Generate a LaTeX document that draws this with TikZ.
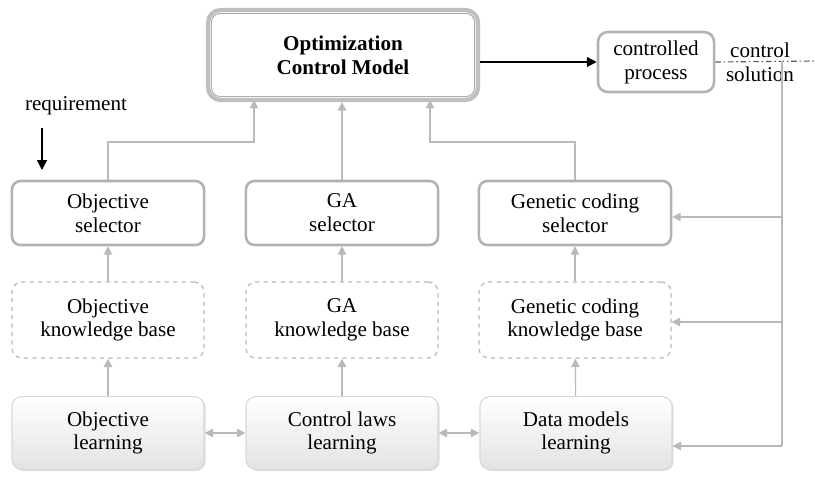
\documentclass[tikz,border=0pt]{standalone}
\usepackage{fontspec}
\setmainfont{Liberation Serif}
\usetikzlibrary{arrows.meta,shadows}

\tikzset{
  txt/.style={align=center, font=\fontsize{15}{17}\selectfont},
  topbox/.style={txt, draw=gray!50, line width=3pt, rounded corners=9pt, fill=white,
    minimum width=6.75cm, minimum height=2.25cm, font=\fontsize{15}{17}\selectfont\bfseries},
  procbox/.style={txt, draw=gray!60, line width=1.8pt, rounded corners=7pt, fill=white,
    minimum width=2.9cm, minimum height=1.5cm},
  selbox/.style={txt, draw=gray!60, line width=1.8pt, rounded corners=6pt, fill=white,
    minimum width=4.8cm, minimum height=1.6cm},
  kbbox/.style={txt, draw=gray!55, dashed, line width=0.9pt, rounded corners=7pt,
    minimum width=4.8cm, minimum height=1.9cm},
  learnbox/.style={txt, draw=gray!30, line width=0.8pt, rounded corners=7pt,
    top color=white, bottom color=gray!22,
    drop shadow={shadow xshift=1.2pt, shadow yshift=-1.2pt, opacity=0.25},
    minimum width=4.8cm, minimum height=1.82cm},
  garrow/.style={draw=gray!55, line width=0.8pt, -{Triangle[length=6pt,width=6pt]}},
  barrow/.style={draw=black, line width=1pt, -{Triangle[length=7pt,width=7pt]}}
}

\begin{document}
\begin{tikzpicture}[x=0.025cm, y=-0.025cm]
  \useasboundingbox (0,0) rectangle (815,478);

  % top row
  \node[topbox] (ocm) at (343,55) {Optimization\\Control Model};
  \draw[gray!65, line width=0.7pt, rounded corners=6pt]
    ([shift={(4pt,4pt)}]ocm.south west) rectangle ([shift={(-4pt,-4pt)}]ocm.north east);
  \node[procbox] (cp) at (656,62) {controlled\\process};
  \node[txt, inner sep=0pt] (cs) at (760,62) {control\\solution};
  \node[txt] (req) at (76,106) {requirement};

  % selectors
  \node[selbox] (osel) at (108,213) {Objective\\selector};
  \node[selbox] (gsel) at (342,213) {GA\\selector};
  \node[selbox] (csel) at (575,213) {Genetic coding\\selector};

  % knowledge bases
  \node[kbbox] (okb) at (108,320) {Objective\\knowledge base};
  \node[kbbox] (gkb) at (342,320) {GA\\knowledge base};
  \node[kbbox] (ckb) at (575,320) {Genetic coding\\knowledge base};

  % learning
  \node[learnbox] (olrn) at (108,433) {Objective\\learning};
  \node[learnbox] (glrn) at (342,433) {Control laws\\learning};
  \node[learnbox] (clrn) at (576,433) {Data models\\learning};

  % free ends
  \coordinate (rtop) at (42,128);
  \coordinate (rbot) at (42,170);
  \coordinate (edge) at (815,61);
  \coordinate (fb) at (782,61);

  \draw[barrow] (rtop) -- (rbot);
  \draw[barrow] (ocm.east |- cp.west) -- (cp.west);
  \draw[gray!70!black, line width=0.8pt, dash pattern=on 4pt off 2pt on 1pt off 2pt]
    (cp.east) -- (edge);

  % selectors to model
  \draw[garrow] (osel.north) |- (254,142) -- (254,100);
  \draw[garrow] (gsel.north) -- (gsel.north |- ocm.south);
  \draw[garrow] (csel.north) |- (430,142) -- (430,100);

  % knowledge bases to selectors
  \draw[garrow] (okb) -- (osel);
  \draw[garrow] (gkb) -- (gsel);
  \draw[garrow] (ckb) -- (csel);

  % learning to knowledge bases
  \draw[garrow] (olrn) -- (okb);
  \draw[garrow] (glrn) -- (gkb);
  \draw[garrow] (clrn) -- (ckb);

  % between learning boxes
  \draw[garrow, {Triangle[length=6pt,width=6pt]}-{Triangle[length=6pt,width=6pt]}] (olrn) -- (glrn);
  \draw[garrow, {Triangle[length=6pt,width=6pt]}-{Triangle[length=6pt,width=6pt]}] (glrn) -- (clrn);

  % feedback of the control solution
  \draw[gray!55, line width=0.8pt] (fb) -- (782,446);
  \draw[garrow] (782,217) -- (csel.east |- 0,217);
  \draw[garrow] (782,322) -- (ckb.east |- 0,322);
  \draw[garrow] (782,446) -- (clrn.east |- 0,446);
\end{tikzpicture}
\end{document}
